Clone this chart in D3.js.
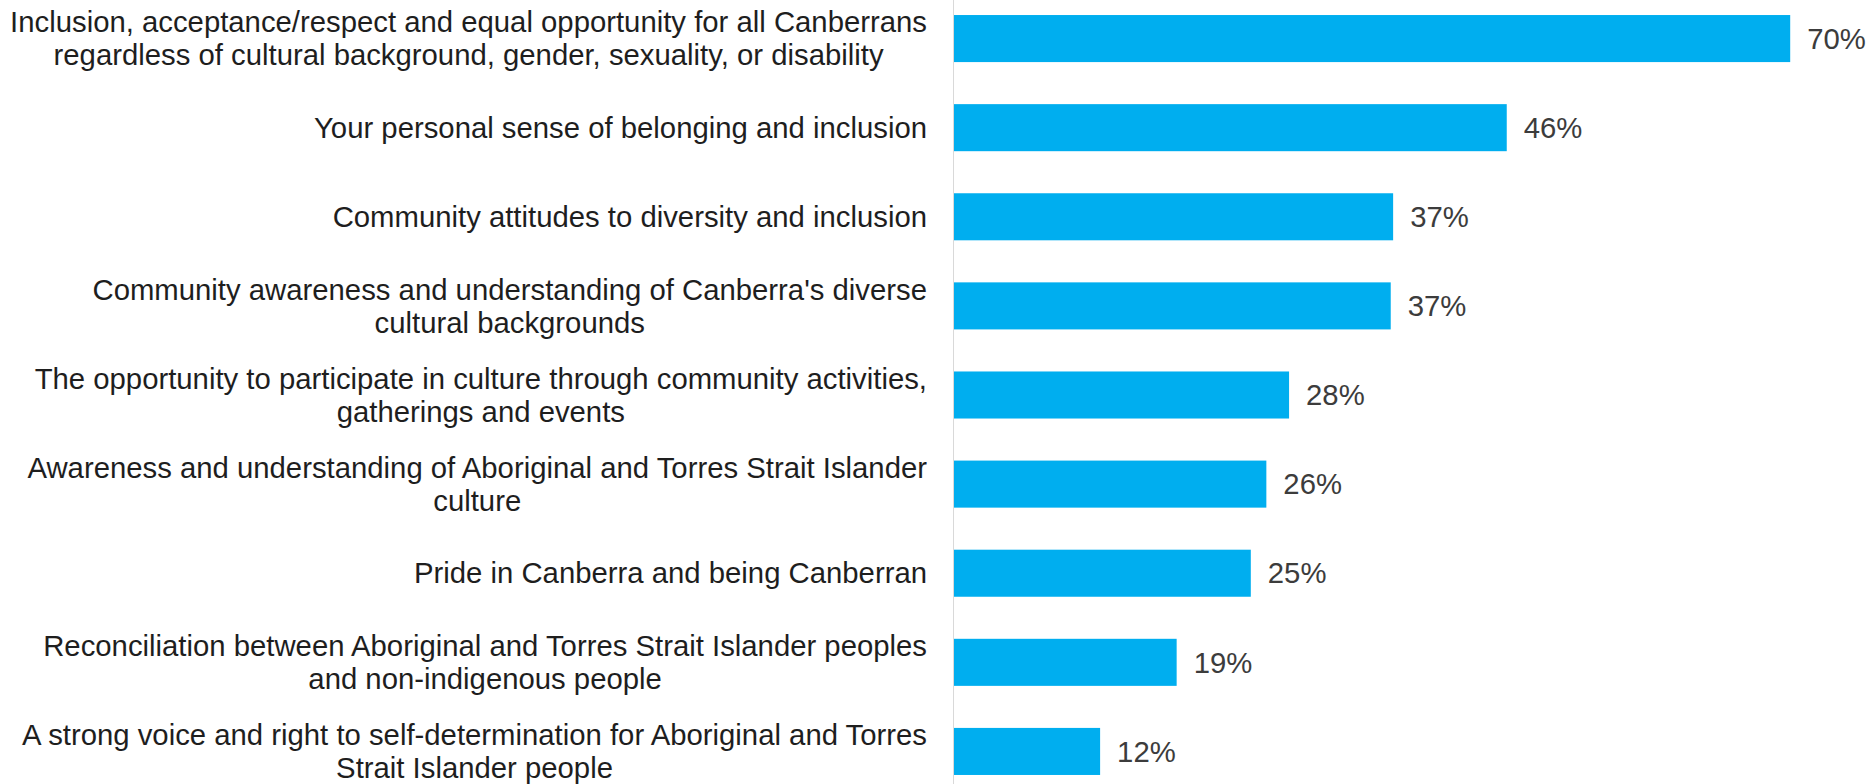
<!DOCTYPE html>
<html>
<head>
<meta charset="utf-8">
<script src="https://cdn.jsdelivr.net/npm/d3@7"></script>
<style>
  html, body { margin: 0; padding: 0; background: #ffffff; }
  svg { display: block; }
</style>
</head>
<body>
<svg id="chart" width="1870" height="784"></svg>
<script>
// ---- data ----
const categories = [
  ["Inclusion, acceptance/respect and equal opportunity for all Canberrans", "regardless of cultural background, gender, sexuality, or disability"],
  ["Your personal sense of belonging and inclusion"],
  ["Community attitudes to diversity and inclusion"],
  ["Community awareness and understanding of Canberra's diverse", "cultural backgrounds"],
  ["The opportunity to participate in culture through community activities,", "gatherings and events"],
  ["Awareness and understanding of Aboriginal and Torres Strait Islander", "culture"],
  ["Pride in Canberra and being Canberran"],
  ["Reconciliation between Aboriginal and Torres Strait Islander peoples", "and non-indigenous people"],
  ["A strong voice and right to self-determination for Aboriginal and Torres", "Strait Islander people"]
];
// bar lengths (percent)
const values = [70, 46.3, 36.8, 36.6, 28.1, 26.2, 24.9, 18.7, 12.3];
const valueLabels = ["70%", "46%", "37%", "37%", "28%", "26%", "25%", "19%", "12%"];

// ---- layout ----
const W = 1870, H = 784;
const axisX = 953;
const labelRight = 927;
const fontFamily = "'Liberation Sans', Arial, sans-serif";
const fontSize = 29.3;
const lineH = 33;

const svg = d3.select("#chart");
const idx = d3.range(categories.length);

const y = d3.scaleBand()
  .domain(idx)
  .range([-6, 796])
  .paddingInner(0.472)
  .paddingOuter(0.236);

const x = d3.scaleLinear()
  .domain([0, 100])
  .range([axisX, axisX + 1196]);

// bars
svg.append("g")
  .selectAll("rect")
  .data(idx)
  .join("rect")
  .attr("x", x(0))
  .attr("y", i => y(i))
  .attr("width", i => x(values[i]) - x(0))
  .attr("height", y.bandwidth())
  .attr("fill", "#00aeef");

// axis line
svg.append("line")
  .attr("x1", axisX + 0.5).attr("x2", axisX + 0.5)
  .attr("y1", 0).attr("y2", H)
  .attr("stroke", "#d9d9d9")
  .attr("stroke-width", 1);

// category labels (lines centred relative to each other, block right-aligned)
const lab = svg.append("g")
  .attr("font-family", fontFamily)
  .attr("font-size", fontSize)
  .attr("fill", "#1e1e1e");

idx.forEach(i => {
  const lines = categories[i];
  const g = lab.append("g");
  const cy = y(i) + y.bandwidth() / 2;
  const texts = lines.map((ln, k) =>
    g.append("text")
      .attr("text-anchor", "middle")
      .attr("y", cy + (k - (lines.length - 1) / 2) * lineH)
      .attr("dy", "0.35em")
      .text(ln)
  );
  const maxW = d3.max(texts, t => t.node().getComputedTextLength());
  texts.forEach(t => t.attr("x", labelRight - maxW / 2));
});

// value labels
svg.append("g")
  .attr("font-family", fontFamily)
  .attr("font-size", fontSize)
  .attr("fill", "#3c3c3c")
  .selectAll("text")
  .data(idx)
  .join("text")
  .attr("x", i => x(values[i]) + 17)
  .attr("y", i => y(i) + y.bandwidth() / 2)
  .attr("dy", "0.35em")
  .text(i => valueLabels[i]);
</script>
</body>
</html>
